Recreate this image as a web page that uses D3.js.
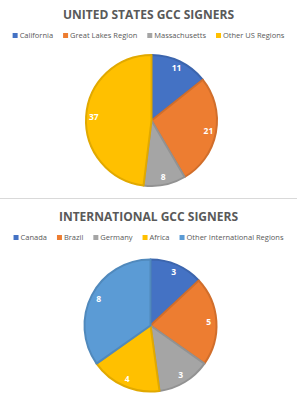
<!DOCTYPE html>
<html>
<head>
<meta charset="utf-8">
<script src="https://cdn.jsdelivr.net/npm/d3@7"></script>
<style>
  body { margin: 0; background: #fff; }
  svg { display: block; font-family: "Open Sans", "Noto Sans", sans-serif; }
</style>
</head>
<body>
<div id="chart"></div>
<script>
var width = 297;
var height = 400;

// US chart
var usTitle = "UNITED STATES GCC SIGNERS";
var usCategories = ["California", "Great Lakes Region", "Massachusetts", "Other US Regions"];
var usValues = [11, 21, 8, 37];
var usColors = ["#4472C4", "#ED7D31", "#A5A5A5", "#FFC000"];

// International chart
var intlTitle = "INTERNATIONAL GCC SIGNERS";
var intlCategories = ["Canada", "Brazil", "Germany", "Africa", "Other International Regions"];
var intlValues = [3, 5, 3, 4, 8];
var intlColors = ["#4472C4", "#ED7D31", "#A5A5A5", "#FFC000", "#5B9BD5"];

var svgElement = d3.select("#chart").append("svg")
    .attr("width", width)
    .attr("height", height);

svgElement.append("rect")
    .attr("width", width).attr("height", height).attr("fill", "#fff");

// separator between the two charts
svgElement.append("line")
    .attr("x1", 0).attr("x2", width)
    .attr("y1", 198.5).attr("y2", 198.5)
    .attr("stroke", "#d9d9d9").attr("stroke-width", 1);

function drawPie(top, title, categories, values, colors, cx, cy, r) {
    var g = svgElement.append("g");

    g.append("text")
        .attr("x", width / 2)
        .attr("y", top + 19)
        .attr("text-anchor", "middle")
        .attr("font-size", 12)
        .attr("font-weight", "bold")
        .attr("fill", "#595959")
        .text(title);

    // legend, centred
    var legend = g.append("g");
    var x = 0;
    categories.forEach(function (c, i) {
        var item = legend.append("g").attr("transform", "translate(" + x + ",0)");
        item.append("rect")
            .attr("x", 0).attr("y", -5)
            .attr("width", 5).attr("height", 5)
            .attr("fill", colors[i]);
        var t = item.append("text")
            .attr("x", 7).attr("y", 0)
            .attr("font-size", 7.5)
            .attr("fill", "#595959")
            .text(c);
        x += 7 + t.node().getComputedTextLength() + 10;
    });
    var lw = x - 10;
    legend.attr("transform", "translate(" + ((width - lw) / 2) + "," + (top + 38) + ")");

    var pie = d3.pie().sort(null).value(function (d) { return d; });
    var arcs = pie(values);
    var arc = d3.arc().innerRadius(0).outerRadius(r - 1);
    var labelArc = d3.arc().innerRadius(r * 0.87).outerRadius(r * 0.87);

    var pg = g.append("g").attr("transform", "translate(" + cx + "," + cy + ")");
    pg.selectAll("path")
        .data(arcs)
        .enter()
        .append("path")
        .attr("d", arc)
        .attr("fill", function (d, i) { return colors[i]; })
        .attr("stroke", function (d, i) { return d3.color(colors[i]).darker(0.35); })
        .attr("stroke-width", 2)
        .attr("stroke-linejoin", "round");

    pg.selectAll("text.lbl")
        .data(arcs)
        .enter()
        .append("text")
        .attr("class", "lbl")
        .attr("transform", function (d) { return "translate(" + labelArc.centroid(d) + ")"; })
        .attr("text-anchor", "middle")
        .attr("dy", "0.35em")
        .attr("font-size", 8.5)
        .attr("font-weight", "bold")
        .attr("fill", "#fff")
        .text(function (d) { return d.data; });
}

drawPie(0, usTitle, usCategories, usValues, usColors, 151.5, 120.5, 66.5);
drawPie(202, intlTitle, intlCategories, intlValues, intlColors, 150.5, 325.5, 67);
</script>
</body>
</html>
